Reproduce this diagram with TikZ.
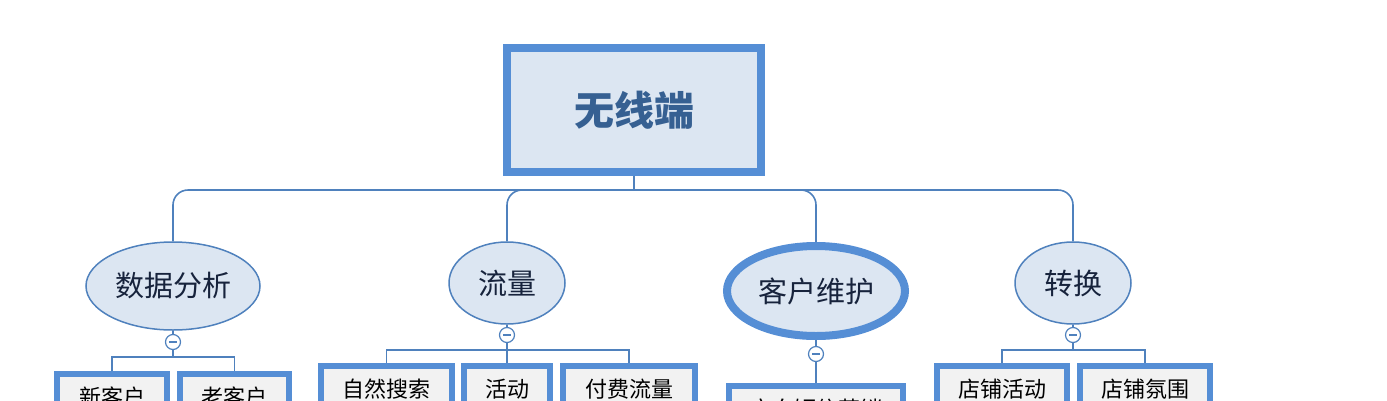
\documentclass[tikz,border=0pt]{standalone}
\usepackage{fontspec}
\setmainfont{Noto Sans CJK SC}
\newfontfamily\cjk{Noto Sans CJK SC}
\usetikzlibrary{shapes.geometric}
\definecolor{bord}{RGB}{85,142,213}
\definecolor{conn}{RGB}{79,129,189}
\definecolor{efill}{RGB}{220,230,242}
\definecolor{bfill}{RGB}{242,242,242}
\definecolor{roottext}{RGB}{54,96,146}
\definecolor{etext}{RGB}{23,35,60}
\tikzset{
  rootbox/.style={draw=bord, line width=8pt, fill=efill, rectangle, minimum width=254pt, minimum height=124pt, inner sep=0pt,
    font=\cjk\bfseries\fontsize{40}{40}\selectfont, text=roottext},
  topic/.style={draw=conn, line width=1.5pt, fill=efill, ellipse, inner sep=0pt,
    font=\cjk\fontsize{29}{29}\selectfont, text=etext},
  bigtopic/.style={topic, draw=bord, line width=8pt},
  leaf/.style={draw=bord, line width=6pt, fill=bfill, rectangle, anchor=north, inner sep=0pt, minimum height=46pt,
    font=\cjk\fontsize{22}{22}\selectfont, text=black},
  toggle/.style={draw=conn, line width=1.2pt, fill=white, circle, minimum size=15pt, inner sep=0pt},
  conline/.style={draw=conn, line width=1.6pt},
}
\begin{document}
\begin{tikzpicture}[x=1pt,y=-1pt]
\useasboundingbox (0,0) rectangle (1387,400);
\clip (0,0) rectangle (1387,400);
% root
\node[rootbox] (root) at (634,110) {无线端};
% topics
\node[topic, minimum width=174pt, minimum height=88pt] (sj) at (173,286) {数据分析};
\node[topic, minimum width=116pt, minimum height=82pt] (ll) at (507,283) {流量};
\node[bigtopic, minimum width=178pt, minimum height=90pt] (kh) at (816,291) {客户维护};
\node[topic, minimum width=116pt, minimum height=82pt] (zh) at (1073,283) {转换};
% trunk
\coordinate (rj) at (634,190);
\draw[conline] (root.south) -- (rj);
\draw[conline, rounded corners=15pt] (sj.north) |- (rj) -| (zh.north);
\draw[conline, rounded corners=15pt] (560,190) -| (ll.north);
\draw[conline, rounded corners=15pt] (770,190) -| (kh.north);
% toggles
\node[toggle] (t1) at (173,342) {};
\node[toggle] (t2) at (507,335) {};
\node[toggle] (t3) at (816,354) {};
\node[toggle] (t4) at (1073,335) {};
\foreach \t in {t1,t2,t3,t4}{
  \draw[conn, line width=1.2pt] ([xshift=-4pt]\t.center) -- ([xshift=4pt]\t.center);
}
\draw[conline] (sj.south) -- (t1.north);
\draw[conline] (ll.south) -- (t2.north);
\draw[conline] (kh.south) -- (t3.north);
\draw[conline] (zh.south) -- (t4.north);
% leaves
\node[leaf, minimum width=110pt] (b1) at (112,371) {新客户};
\node[leaf, minimum width=109pt] (b2) at (234.5,371) {老客户};
\node[leaf, minimum width=131pt] (b3) at (386.5,363) {自然搜索};
\node[leaf, minimum width=86pt] (b4) at (507,363) {活动};
\node[leaf, minimum width=132pt] (b5) at (629,363) {付费流量};
\node[leaf, minimum width=174pt] (b6) at (816,383) {定向短信营销};
\node[leaf, minimum width=130pt] (b7) at (1002,363) {店铺活动};
\node[leaf, minimum width=130pt] (b8) at (1145,363) {店铺氛围};
% leaf connectors
\coordinate (j1) at (173,357);
\coordinate (j2) at (507,350);
\coordinate (j4) at (1073,350);
\draw[conline] (t1.south) -- (j1);
\draw[conline] (b1.north) |- (j1) -| (b2.north);
\draw[conline] (t2.south) -- (b4.north);
\draw[conline] (b3.north) |- (j2) -| (b5.north);
\draw[conline] (t3.south) -- (b6.north);
\draw[conline] (t4.south) -- (j4);
\draw[conline] (b7.north) |- (j4) -| (b8.north);
\end{tikzpicture}
\end{document}
